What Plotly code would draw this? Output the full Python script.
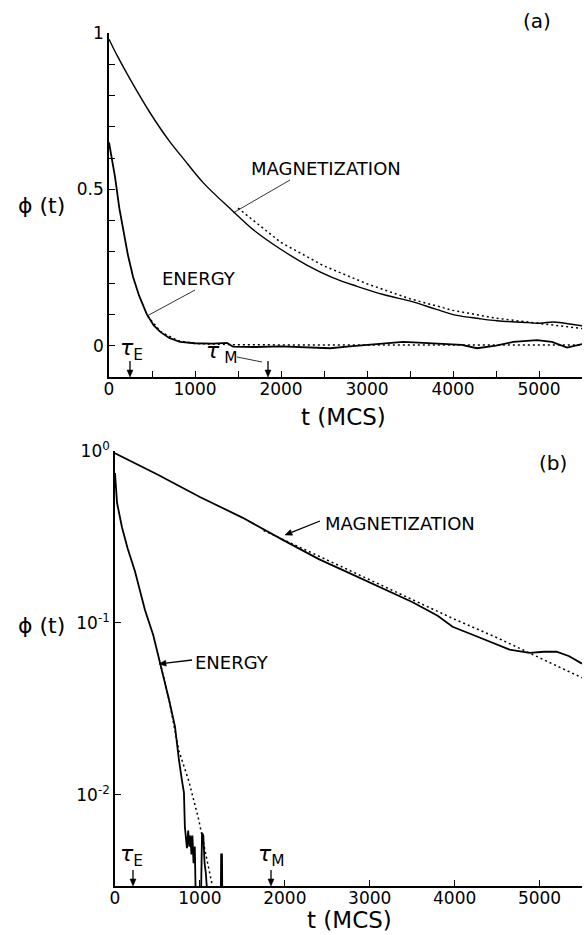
import math
import plotly.graph_objects as go

# ---------------- data ----------------
# (a) linear panel
mag_t = [0, 100, 250, 477, 700, 860, 1100, 1442, 1700, 1988, 2300, 2600, 2884, 3200,
         3535, 3800, 4047, 4300, 4512, 4800, 5012, 5163, 5300, 5500]
mag_phi = [0.98, 0.925, 0.85, 0.745, 0.655, 0.60, 0.52, 0.43, 0.366, 0.31, 0.258, 0.218,
           0.19, 0.163, 0.14, 0.117, 0.097, 0.087, 0.08, 0.075, 0.072, 0.076, 0.072, 0.064]
mag_fit_t = [1500, 2000, 2500, 3000, 3500, 4000, 4500, 5000, 5500]
mag_fit_phi = [0.44, 0.33, 0.255, 0.198, 0.150, 0.113, 0.088, 0.072, 0.055]

en_t = [0, 30, 70, 120, 163, 220, 280, 350, 440, 520, 593, 700, 826, 1000, 1200, 1372,
        1442, 1700, 2000, 2300, 2570, 2800, 3100, 3419, 3600, 3900, 4100, 4279, 4500,
        4700, 4977, 5150, 5326, 5500]
en_phi = [0.65, 0.60, 0.54, 0.44, 0.37, 0.29, 0.22, 0.16, 0.10, 0.065, 0.045, 0.025, 0.012,
          0.008, 0.007, 0.009, -0.003, -0.004, -0.002, -0.004, -0.008, -0.002, 0.004, 0.012,
          0.010, 0.006, 0.003, -0.008, 0.0, 0.012, 0.018, 0.012, -0.006, 0.005]
en_fit_t = [450, 600, 800, 1000, 1500, 2000, 3000, 4000, 5000, 5500]
en_fit_phi = [0.095, 0.045, 0.016, 0.007, 0.003, 0.002, 0.002, 0.002, 0.002, 0.002]

# (b) log panel
lmag_t = [0, 500, 1000, 1500, 1976, 2400, 2729, 3100, 3506, 3800, 3976, 4300, 4647,
          4882, 5050, 5200, 5350, 5500]
lmag_phi = [0.97, 0.73, 0.54, 0.41, 0.304, 0.235, 0.198, 0.163, 0.132, 0.110, 0.095,
            0.082, 0.070, 0.067, 0.068, 0.068, 0.064, 0.058]
lmag_fit_t = [1750, 2500, 3000, 3500, 4000, 4500, 5000, 5500]
lmag_fit_phi = [0.345, 0.232, 0.180, 0.138, 0.105, 0.082, 0.063, 0.048]

len_t = [0, 24, 82, 150, 235, 353, 450, 530, 635, 706, 740, 753, 790, 812, 823, 847,
         862, 875, 888, 900, 912, 925, 940, 955, 965, 1000, 1015, 1025, 1040, 1055,
         1070, 1090, 1110, 1200, 1240, 1250, 1260, 1270, 1300]
len_phi = [0.745, 0.50, 0.36, 0.27, 0.20, 0.119, 0.085, 0.059, 0.036, 0.025, 0.017,
           0.016, 0.012, 0.0103, 0.0065, 0.0049, 0.0062, 0.005, 0.0058, 0.0045, 0.0058,
           0.0040, 0.0050, 0.0030, 0.0010, 0.0010, 0.0025, 0.0060, 0.0058, 0.0040,
           0.0035, 0.0025, 0.0010, 0.0010, 0.0010, 0.0045, 0.0045, 0.0010, 0.0010]
len_fit_t = [530, 640, 753, 870, 985, 1141, 1200]
len_fit_phi = [0.059, 0.035, 0.018, 0.012, 0.0072, 0.0031, 0.0022]

xa_ticks = [0, 1000, 2000, 3000, 4000, 5000]
xa_text = ["0", "1000", "2000", "3000", "4000", "5000"]
xa_minor = [500, 1500, 2500, 3500, 4500, 5500]
xb_ticks = [0, 1000, 2000, 3000, 4000, 5000]
xb_text = ["0", "1000", "2000", "3000", "4000", "5000"]
ya_ticks = [0, 0.5, 1]
ya_text = ["0", "0.5", "1"]
ya_minor = [0.1, 0.2, 0.3, 0.4, 0.6, 0.7, 0.8, 0.9]
yb_ticks = [1, 0.1, 0.01]
yb_text = ["10<sup>0</sup>", "10<sup>-1</sup>", "10<sup>-2</sup>"]

# ---------------- layout geometry ----------------
W, H = 585, 935
ML, MR, MT, MB = 109, 3, 33, 49
PW, PH = W - ML - MR, H - MT - MB


def px(xp):
    return (xp - ML) / PW


def py(yp):
    return (H - MB - yp) / PH


FONT = "DejaVu Sans"
solid = dict(color="black", width=1.8)
dotted = dict(color="black", width=1.5, dash="2px,3px")

fig = go.Figure()
fig.add_trace(go.Scatter(x=mag_fit_t, y=mag_fit_phi, mode="lines", line=dotted, xaxis="x", yaxis="y"))
fig.add_trace(go.Scatter(x=en_fit_t, y=en_fit_phi, mode="lines", line=dotted, xaxis="x", yaxis="y"))
fig.add_trace(go.Scatter(x=mag_t, y=mag_phi, mode="lines", line=dict(color="black", width=1.4),
                         line_shape="spline", xaxis="x", yaxis="y"))
fig.add_trace(go.Scatter(x=en_t, y=en_phi, mode="lines", line=solid, xaxis="x", yaxis="y"))

fig.add_trace(go.Scatter(x=lmag_fit_t, y=lmag_fit_phi, mode="lines", line=dotted, xaxis="x2", yaxis="y2"))
fig.add_trace(go.Scatter(x=len_fit_t, y=len_fit_phi, mode="lines", line=dotted, xaxis="x2", yaxis="y2"))
fig.add_trace(go.Scatter(x=lmag_t, y=lmag_phi, mode="lines", line=solid, xaxis="x2", yaxis="y2"))
fig.add_trace(go.Scatter(x=len_t, y=len_phi, mode="lines", line=solid, xaxis="x2", yaxis="y2"))

axis_common = dict(showline=True, linecolor="black", linewidth=1.6, ticks="inside",
                   tickcolor="black", tickwidth=1.4, ticklen=6, showgrid=False,
                   zeroline=False, tickfont=dict(family=FONT, size=17, color="black"))
minor_common = dict(ticks="inside", ticklen=6, tickwidth=1.4, tickcolor="black",
                    showgrid=False, tickmode="array")

fig.update_layout(
    width=W, height=H, autosize=False, showlegend=False,
    margin=dict(l=ML, r=MR, t=MT, b=MB),
    paper_bgcolor="white", plot_bgcolor="white",
    xaxis=dict(domain=[0, 1], range=[0, 5500], anchor="y", tickmode="array",
               tickvals=xa_ticks, ticktext=xa_text, ticklabelstandoff=-4,
               minor=dict(tickvals=xa_minor, **minor_common), **axis_common),
    yaxis=dict(domain=[py(377), 1], range=[-0.1, 1.0], anchor="x", tickmode="array",
               tickvals=ya_ticks, ticktext=ya_text,
               minor=dict(tickvals=ya_minor, **minor_common), **axis_common),
    xaxis2=dict(domain=[px(115), 1], range=[0, 5500], anchor="y2", tickmode="array",
                tickvals=xb_ticks, ticktext=xb_text, ticklabelstandoff=-4, **axis_common),
    yaxis2=dict(domain=[0, py(451)], type="log", range=[-2.53, 0.0], anchor="x2",
                tickmode="array", tickvals=yb_ticks, ticktext=yb_text, **axis_common),
)

anns = []
shapes = []


def text(xp, yp, s, size=18, xanchor="center", yanchor="middle"):
    anns.append(dict(x=px(xp), y=py(yp), xref="paper", yref="paper", text=s,
                     showarrow=False, xanchor=xanchor, yanchor=yanchor,
                     font=dict(family=FONT, size=size, color="black")))


def line(x0, y0, x1, y1, width=0.8):
    shapes.append(dict(type="line", xref="paper", yref="paper", x0=px(x0), y0=py(y0),
                       x1=px(x1), y1=py(y1), line=dict(color="black", width=width)))


def arrow(xh, yh, xt, yt, hl=7.0, hw=3.0):
    dx, dy = xh - xt, yh - yt
    n = math.hypot(dx, dy)
    ux, uy = dx / n, dy / n
    bx, by = xh - hl * ux, yh - hl * uy
    line(xt, yt, bx, by, width=1.3)
    p1 = (bx - hw * uy, by + hw * ux)
    p2 = (bx + hw * uy, by - hw * ux)
    path = "M {:.5f} {:.5f} L {:.5f} {:.5f} L {:.5f} {:.5f} Z".format(
        px(xh), py(yh), px(p1[0]), py(p1[1]), px(p2[0]), py(p2[1]))
    shapes.append(dict(type="path", xref="paper", yref="paper", path=path,
                       fillcolor="black", line=dict(color="black", width=0.5)))


# panel labels, axis titles
text(537, 21, "(a)", size=20)
text(553, 463, "(b)", size=20)
text(343, 417, "t (MCS)", size=23)
text(349, 920, "t (MCS)", size=23)
text(41, 205, "ϕ (t)", size=22)
text(41, 625, "ϕ (t)", size=22)

# (a) annotations
text(326, 168, "MAGNETIZATION")
text(199, 278, "ENERGY")
text(118, 350, "<i>τ</i><sub>E</sub>", size=22, xanchor="left")
text(204, 352, "<i>τ</i><sub> M</sub>", size=22, xanchor="left")
line(290, 180, 233, 213)
line(195, 290, 147, 316)
line(237, 357, 262, 362)
arrow(130, 377, 130, 361)
arrow(268, 377, 268, 361)

# (b) annotations
text(400, 523, "MAGNETIZATION")
text(232, 662, "ENERGY")
arrow(285, 535, 320, 521)
arrow(159, 664, 192, 660)
text(118, 855, "<i>τ</i><sub>E</sub>", size=22, xanchor="left")
text(256, 855, "<i>τ</i><sub>M</sub>", size=22, xanchor="left")
arrow(133, 886, 133, 870)
arrow(271, 886, 271, 870)

fig.update_layout(annotations=anns, shapes=shapes)

fig.write_html("out.html")
